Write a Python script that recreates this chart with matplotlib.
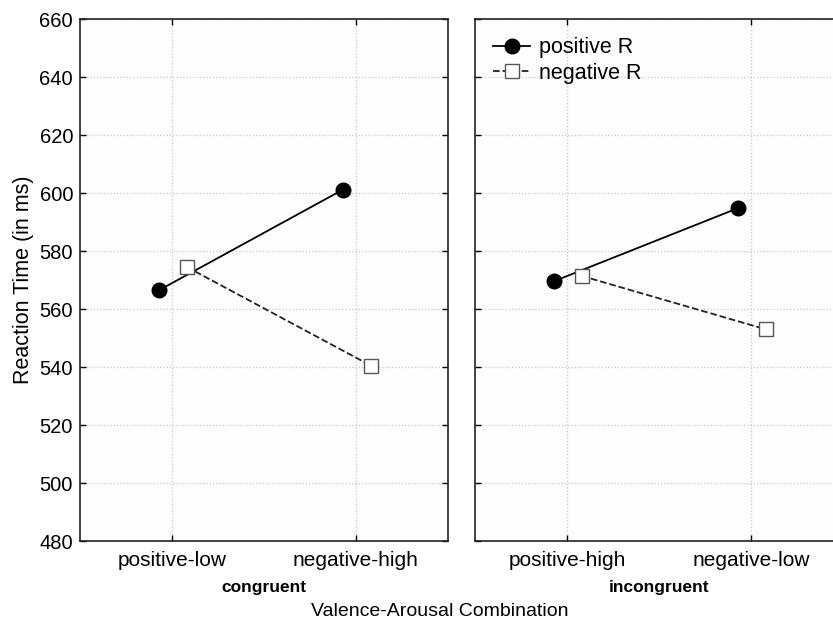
import matplotlib.pyplot as plt
import numpy as np

# data
left_cats = ["positive-low", "negative-high"]
right_cats = ["positive-high", "negative-low"]
left_pos = [566.5, 601.2]
left_neg = [574.5, 540.5]
right_pos = [569.6, 594.8]
right_neg = [571.4, 553.0]
yticks = [480, 500, 520, 540, 560, 580, 600, 620, 640, 660]

plt.rcParams['font.family'] = ['Liberation Sans', 'DejaVu Sans']

W, H = 833, 628
fig = plt.figure(figsize=(W / 100, H / 100), dpi=100)
fig.patch.set_facecolor('white')

bottom = (H - 541) / H
height = 522 / H
ax1 = fig.add_axes([80 / W, bottom, 368 / W, height])
ax2 = fig.add_axes([475 / W, bottom, 368 / W, height])


def draw_panel(ax, cats, pos, neg, group):
    x = np.arange(len(cats))
    ax.set_facecolor('#fdfdfd')
    ax.plot(x - 0.07, pos, '-', color='black', lw=1.3, marker='o',
            ms=10.5, mfc='black', mec='black', label='positive R', zorder=3)
    ax.plot(x + 0.08, neg, '--', color='#222222', lw=1.3, marker='s',
            ms=10.5, mfc='white', mec='#555555', mew=1.0, label='negative R', zorder=3)
    ax.set_xlim(-0.5, 1.5)
    ax.set_ylim(480, 660)
    ax.set_yticks(yticks)
    ax.set_xticks(x)
    ax.set_xticklabels(cats, fontsize=15)
    ax.grid(True, linestyle=':', color='#c8c8c8', lw=0.9)
    ax.tick_params(direction='in', top=True, right=True, length=4, width=1)
    ax.tick_params(axis='y', labelsize=14.5, pad=5)
    ax.tick_params(axis='x', pad=7)
    for s in ax.spines.values():
        s.set_linewidth(1.2)
        s.set_color('#222222')
    ax.text(0.5, -0.09, group, transform=ax.transAxes, ha='center', va='center',
            fontsize=12.5, fontweight='bold')


draw_panel(ax1, left_cats, left_pos, left_neg, "congruent")
draw_panel(ax2, right_cats, right_pos, right_neg, "incongruent")
ax2.tick_params(labelleft=False)
ax1.set_ylabel("Reaction Time (in ms)", fontsize=15.5, labelpad=4)

ax2.legend(loc='upper left', bbox_to_anchor=(0.0, 1.0), frameon=False,
           fontsize=15.5, handlelength=1.7, handletextpad=0.4,
           labelspacing=0.2, borderaxespad=0.45)

fig.text(440 / W, 1 - 612 / H, "Valence-Arousal Combination", ha='center',
         va='center', fontsize=14)

fig.savefig("out.png", dpi=100)
